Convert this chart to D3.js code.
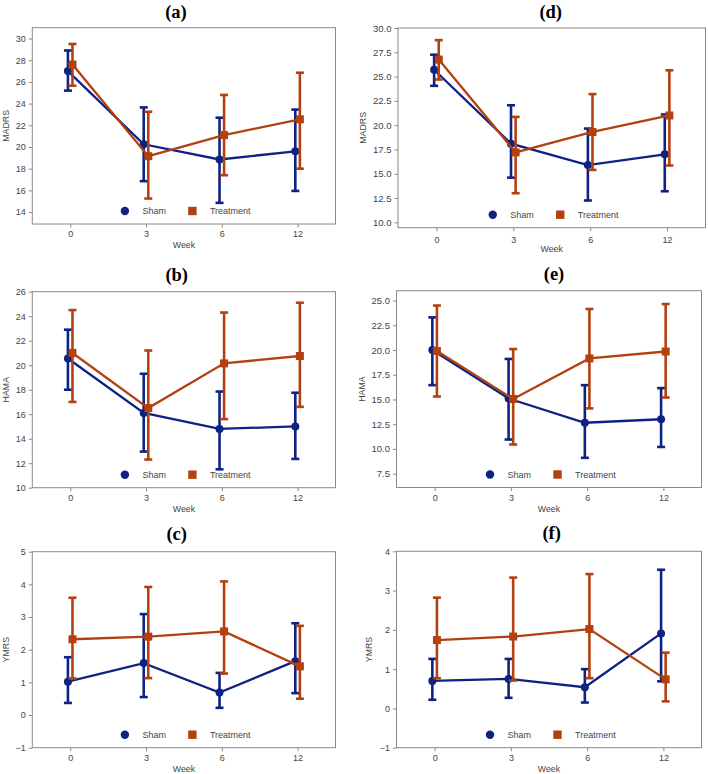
<!DOCTYPE html>
<html>
<head>
<meta charset="utf-8">
<script src="https://cdn.jsdelivr.net/npm/d3@7"></script>
<style>
  html, body { margin: 0; padding: 0; background: #ffffff; }
  svg { display: block; }
  text { font-family: "Liberation Sans", Arial, sans-serif; }
</style>
</head>
<body>
<svg id="chart" width="708" height="774"></svg>
<script>
// ---------------- data ----------------
const weeks = ["0", "3", "6", "12"];
const seriesNames = ["Sham", "Treatment"];

// (a) MADRS
const aShamMean  = [27.0, 20.25, 18.85, 19.6];
const aShamLow   = [25.2, 16.85, 14.85, 15.95];
const aShamHigh  = [28.9, 23.65, 22.7, 23.45];
const aTreatMean = [27.6, 19.15, 21.1, 22.55];
const aTreatLow  = [25.65, 15.25, 17.4, 18.0];
const aTreatHigh = [29.5, 23.25, 24.8, 26.85];

// (b) HAMA
const bShamMean  = [20.55, 16.1, 14.8, 15.0];
const bShamLow   = [18.0, 12.95, 11.5, 12.35];
const bShamHigh  = [22.9, 19.3, 17.85, 17.75];
const bTreatMean = [21.0, 16.5, 20.15, 20.75];
const bTreatLow  = [17.0, 12.3, 15.6, 16.6];
const bTreatHigh = [24.5, 21.2, 24.3, 25.1];

// (c) YMRS
const cShamMean  = [1.02, 1.59, 0.69, 1.65];
const cShamLow   = [0.37, 0.55, 0.22, 0.67];
const cShamHigh  = [1.77, 3.09, 1.29, 2.81];
const cTreatMean = [2.32, 2.4, 2.56, 1.49];
const cTreatLow  = [1.12, 1.13, 1.27, 0.5];
const cTreatHigh = [3.59, 3.92, 4.09, 2.73];

// (d) MADRS
const dShamMean  = [25.7, 18.1, 15.9, 17.0];
const dShamLow   = [24.05, 14.6, 12.25, 13.2];
const dShamHigh  = [27.25, 22.05, 19.65, 21.1];
const dTreatMean = [26.75, 17.2, 19.3, 21.0];
const dTreatLow  = [24.7, 13.0, 15.4, 15.85];
const dTreatHigh = [28.75, 20.85, 23.2, 25.65];

// (e) HAMA
const eShamMean  = [20.0, 15.1, 12.65, 13.0];
const eShamLow   = [16.45, 10.95, 9.1, 10.2];
const eShamHigh  = [23.3, 19.1, 16.45, 16.15];
const eTreatMean = [19.9, 15.05, 19.15, 19.85];
const eTreatLow  = [15.3, 10.45, 14.1, 15.2];
const eTreatHigh = [24.5, 20.1, 24.15, 24.65];

// (f) YMRS
const fShamMean  = [0.7, 0.75, 0.54, 1.91];
const fShamLow   = [0.22, 0.27, 0.15, 0.69];
const fShamHigh  = [1.26, 1.26, 1.0, 3.53];
const fTreatMean = [1.74, 1.83, 2.02, 0.74];
const fTreatLow  = [0.77, 0.71, 0.77, 0.18];
const fTreatHigh = [2.82, 3.33, 3.42, 1.42];

// tick values
const madrsTicksA = [14, 16, 18, 20, 22, 24, 26, 28, 30];
const madrsTicksD = [10, 12.5, 15, 17.5, 20, 22.5, 25, 27.5, 30];
const hamaTicksB  = [10, 12, 14, 16, 18, 20, 22, 24, 26];
const hamaTicksE  = [7.5, 10, 12.5, 15, 17.5, 20, 22.5, 25];
const ymrsTicksC  = [-1, 0, 1, 2, 3, 4, 5];
const ymrsTicksF  = [-1, 0, 1, 2, 3, 4];

// ---------------- drawing ----------------
const colors = { Sham: "#0d2283", Treatment: "#b3410f" };
const svg = d3.select("#chart");

function panel(cfg) {
  const g = svg.append("g");
  const x = d3.scalePoint().domain(weeks).range([cfg.left, cfg.right]).padding(0.5);
  const y = d3.scaleLinear().domain(cfg.domain).range([cfg.bottom, cfg.top]);
  const step = x.step();
  const dodge = step * 0.03;

  // frame
  g.append("rect")
    .attr("x", cfg.left).attr("y", cfg.top)
    .attr("width", cfg.right - cfg.left).attr("height", cfg.bottom - cfg.top)
    .attr("fill", "none").attr("stroke", "#8a8a8a").attr("stroke-width", 1);

  // y axis
  const yAxis = d3.axisLeft(y).tickValues(cfg.ticks).tickSize(3.5).tickPadding(3)
    .tickFormat(cfg.fmt);
  const ya = g.append("g").attr("transform", `translate(${cfg.left},0)`).call(yAxis);
  ya.select(".domain").remove();
  ya.selectAll("line").attr("stroke", "#8a8a8a");
  ya.selectAll("text").attr("fill", "#444").style("font-size", cfg.yfs + "px");

  // x axis
  const xAxis = d3.axisBottom(x).tickSize(3.5).tickPadding(cfg.xpad);
  const xa = g.append("g").attr("transform", `translate(0,${cfg.bottom})`).call(xAxis);
  xa.select(".domain").remove();
  xa.selectAll("line").attr("stroke", "#8a8a8a");
  xa.selectAll("text").attr("fill", "#444").style("font-size", "9px");

  // axis labels
  g.append("text")
    .attr("x", (cfg.left + cfg.right) / 2).attr("y", cfg.bottom + 24)
    .attr("text-anchor", "middle").attr("fill", "#444").style("font-size", "8.8px")
    .text("Week");
  g.append("text")
    .attr("transform", `translate(${cfg.ylabX},${(cfg.top + cfg.bottom) / 2}) rotate(-90)`)
    .attr("text-anchor", "middle").attr("dominant-baseline", "central")
    .attr("fill", "#444").style("font-size", "8.8px")
    .text(cfg.ylabel);

  // title
  g.append("text")
    .attr("x", cfg.titleX).attr("y", cfg.titleY)
    .attr("text-anchor", "middle")
    .style("font-family", "'Liberation Serif', 'Times New Roman', serif")
    .style("font-weight", "bold").style("font-size", "18.5px")
    .attr("fill", "#000")
    .text(cfg.title);

  // series
  cfg.series.forEach((s, si) => {
    const off = si === 0 ? -dodge : dodge;
    const col = colors[s.name];
    const pts = weeks.map((w, i) => ({
      x: x(w) + off, m: s.mean[i], lo: s.low[i], hi: s.high[i]
    }));
    // error bars
    const eb = g.append("g").attr("stroke", col).attr("stroke-width", 2.6).attr("fill", "none");
    pts.forEach(p => {
      eb.append("line").attr("x1", p.x).attr("x2", p.x).attr("y1", y(p.lo)).attr("y2", y(p.hi));
      eb.append("line").attr("x1", p.x - 4).attr("x2", p.x + 4).attr("y1", y(p.lo)).attr("y2", y(p.lo));
      eb.append("line").attr("x1", p.x - 4).attr("x2", p.x + 4).attr("y1", y(p.hi)).attr("y2", y(p.hi));
    });
    // line
    g.append("path")
      .datum(pts)
      .attr("fill", "none").attr("stroke", col).attr("stroke-width", 2.3)
      .attr("d", d3.line().x(d => d.x).y(d => y(d.m)));
    // markers
    if (s.name === "Sham") {
      g.selectAll(null).data(pts).enter().append("circle")
        .attr("cx", d => d.x).attr("cy", d => y(d.m)).attr("r", 4)
        .attr("fill", col);
    } else {
      g.selectAll(null).data(pts).enter().append("rect")
        .attr("x", d => d.x - 4).attr("y", d => y(d.m) - 4)
        .attr("width", 8).attr("height", 8)
        .attr("fill", col);
    }
  });

  // legend
  const cx = (cfg.left + cfg.right) / 2;
  const ly = cfg.bottom - 13;
  g.append("circle").attr("cx", cx - 59).attr("cy", ly).attr("r", 4.2).attr("fill", colors.Sham);
  g.append("text").attr("x", cx - 41.5).attr("y", ly).attr("dominant-baseline", "central")
    .attr("fill", "#444").style("font-size", "9px").text(seriesNames[0]);
  g.append("rect").attr("x", cx + 8.5 - 4.2).attr("y", ly - 4.2).attr("width", 8.4).attr("height", 8.4)
    .attr("fill", colors.Treatment);
  g.append("text").attr("x", cx + 26).attr("y", ly).attr("dominant-baseline", "central")
    .attr("fill", "#444").style("font-size", "9px").text(seriesNames[1]);
}

const intFmt = d3.format("d");
const decFmt = d3.format(".1f");
const minusFmt = d => (d < 0 ? "\u2212" + Math.abs(d) : String(d));

panel({
  title: "(a)", titleX: 176, titleY: 17.5, ylabel: "MADRS", ylabX: 6, yfs: 9,
  left: 32.3, right: 335.5, top: 27.7, bottom: 224, xpad: 3.5,
  domain: [12.9, 31.0], ticks: madrsTicksA, fmt: intFmt,
  series: [
    { name: "Sham", mean: aShamMean, low: aShamLow, high: aShamHigh },
    { name: "Treatment", mean: aTreatMean, low: aTreatLow, high: aTreatHigh }
  ]
});
panel({
  title: "(b)", titleX: 176.7, titleY: 280.5, ylabel: "HAMA", ylabX: 6, yfs: 9,
  left: 32.3, right: 335.5, top: 291.7, bottom: 487.7, xpad: 3.5,
  domain: [10, 26], ticks: hamaTicksB, fmt: intFmt,
  series: [
    { name: "Sham", mean: bShamMean, low: bShamLow, high: bShamHigh },
    { name: "Treatment", mean: bTreatMean, low: bTreatLow, high: bTreatHigh }
  ]
});
panel({
  title: "(c)", titleX: 176.7, titleY: 539.5, ylabel: "YMRS", ylabX: 5.5, yfs: 9,
  left: 32.3, right: 335.5, top: 551.7, bottom: 747.7, xpad: 3.5,
  domain: [-1, 5], ticks: ymrsTicksC, fmt: minusFmt,
  series: [
    { name: "Sham", mean: cShamMean, low: cShamLow, high: cShamHigh },
    { name: "Treatment", mean: cTreatMean, low: cTreatLow, high: cTreatHigh }
  ]
});
panel({
  title: "(d)", titleX: 550.7, titleY: 17.5, ylabel: "MADRS", ylabX: 363.3, yfs: 9.5,
  left: 398, right: 705.5, top: 28, bottom: 227.7, xpad: 5,
  domain: [9.45, 30.0], ticks: madrsTicksD, fmt: decFmt,
  series: [
    { name: "Sham", mean: dShamMean, low: dShamLow, high: dShamHigh },
    { name: "Treatment", mean: dTreatMean, low: dTreatLow, high: dTreatHigh }
  ]
});
panel({
  title: "(e)", titleX: 554, titleY: 279.5, ylabel: "HAMA", ylabX: 362.3, yfs: 9.5,
  left: 396.5, right: 701.5, top: 290.7, bottom: 487.5, xpad: 3.5,
  domain: [6.1, 26.0], ticks: hamaTicksE, fmt: decFmt,
  series: [
    { name: "Sham", mean: eShamMean, low: eShamLow, high: eShamHigh },
    { name: "Treatment", mean: eTreatMean, low: eTreatLow, high: eTreatHigh }
  ]
});
panel({
  title: "(f)", titleX: 551.7, titleY: 539, ylabel: "YMRS", ylabX: 369, yfs: 9,
  left: 396.5, right: 701.5, top: 551.3, bottom: 747.7, xpad: 3.5,
  domain: [-1, 4], ticks: ymrsTicksF, fmt: minusFmt,
  series: [
    { name: "Sham", mean: fShamMean, low: fShamLow, high: fShamHigh },
    { name: "Treatment", mean: fTreatMean, low: fTreatLow, high: fTreatHigh }
  ]
});
</script>
</body>
</html>
